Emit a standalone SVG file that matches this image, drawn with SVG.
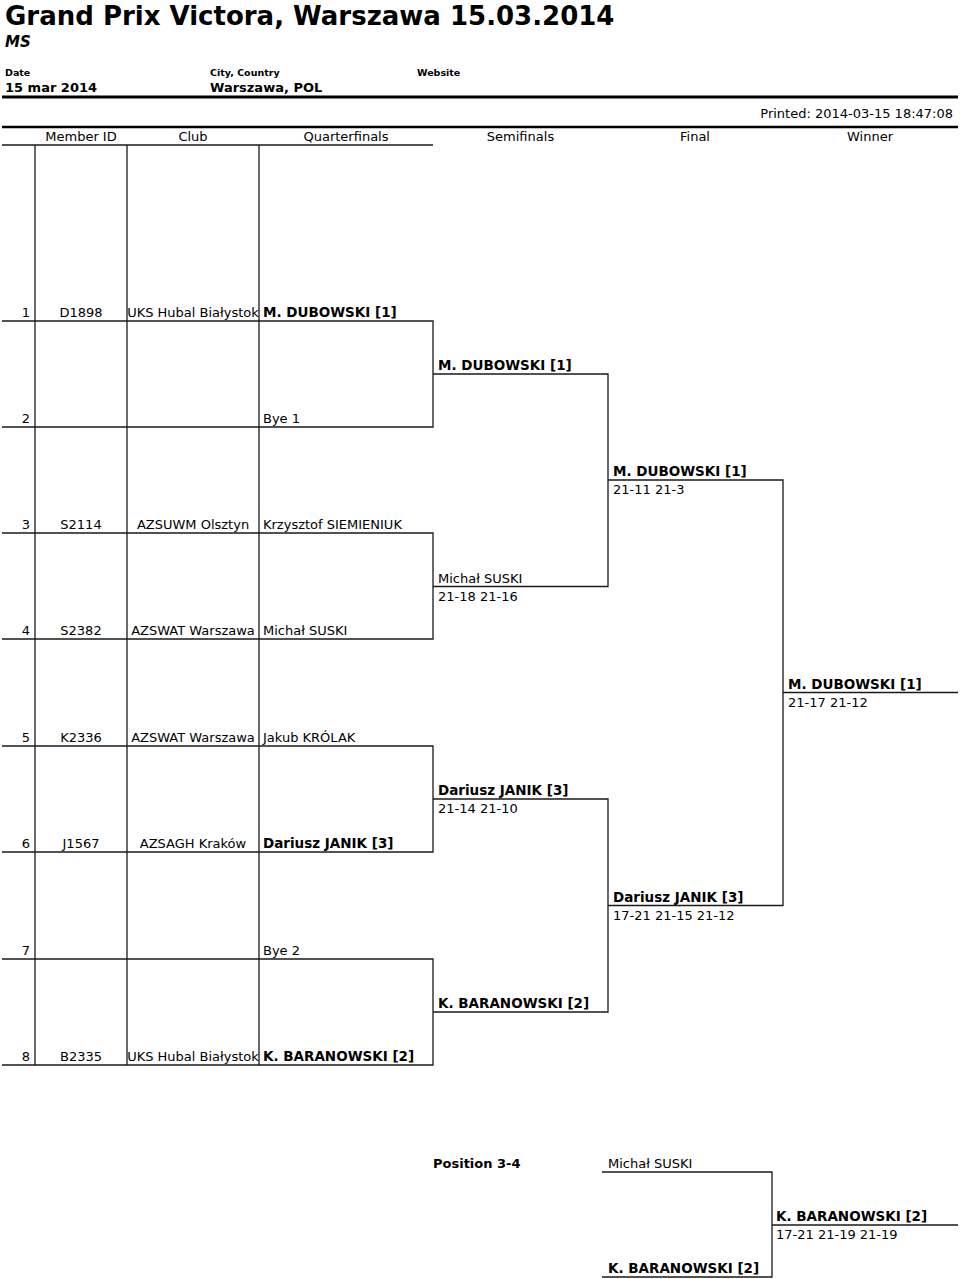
<svg xmlns="http://www.w3.org/2000/svg" width="960" height="1279" viewBox="0 0 960 1279">
<style>
text{font-family:"DejaVu Sans","Liberation Sans",sans-serif;fill:#000}
.t{font-size:26px;font-weight:bold}
.ev{font-size:15px;font-weight:bold;font-style:italic}
.lbl{font-size:9.5px;font-weight:bold}
.val{font-size:13px;font-weight:bold}
.h{font-size:13px}
.r{font-size:13px}
.b{font-size:13.5px;font-weight:bold}
.m{text-anchor:middle}
.e{text-anchor:end}
.ln{stroke:#1a1a1a;stroke-width:1.3;fill:none}
.thick{stroke:#000;stroke-width:3;fill:none}
.thick2{stroke:#000;stroke-width:2.5;fill:none}
</style>
<rect width="960" height="1279" fill="#fff"/>
<g id="header">
<text class="t" x="5" y="24.5">Grand Prix Victora, Warszawa 15.03.2014</text>
<text class="ev" x="5" y="47">MS</text>
<text class="lbl" x="5" y="76">Date</text>
<text class="val" x="5" y="91.5">15 mar 2014</text>
<text class="lbl" x="210" y="76">City, Country</text>
<text class="val" x="210" y="91.5">Warszawa, POL</text>
<text class="lbl" x="417" y="76">Website</text>
<line class="thick" x1="2" y1="97" x2="958" y2="97"/>
<text class="h e" x="953" y="118">Printed: 2014-03-15 18:47:08</text>
<line class="thick2" x1="2" y1="127" x2="958" y2="127"/>
<text class="h m" x="81" y="141">Member ID</text>
<text class="h m" x="193" y="141">Club</text>
<text class="h m" x="346" y="141">Quarterfinals</text>
<text class="h m" x="520.5" y="141">Semifinals</text>
<text class="h m" x="695" y="141">Final</text>
<text class="h m" x="870" y="141">Winner</text>
</g>
<g id="connectors">
<line class="ln" x1="2" y1="145" x2="433" y2="145"/>
<line class="ln" x1="35" y1="145" x2="35" y2="1065"/>
<line class="ln" x1="127" y1="145" x2="127" y2="1065"/>
<line class="ln" x1="259" y1="145" x2="259" y2="1065"/>
<path class="ln" d="M2 321H433V427H2"/>
<path class="ln" d="M2 533H433V639H2"/>
<path class="ln" d="M2 746H433V852H2"/>
<path class="ln" d="M2 959H433V1065H2"/>
<path class="ln" d="M433 374H608V586.5H433"/>
<path class="ln" d="M433 799H608V1012H433"/>
<path class="ln" d="M608 480H783V905.5H608"/>
<line class="ln" x1="783" y1="692.5" x2="958" y2="692.5"/>
<path class="ln" d="M602 1172H772V1277H602"/>
<line class="ln" x1="772" y1="1225" x2="958" y2="1225"/>
</g>
<g id="row1"><text class="r e" x="30" y="317">1</text><text class="r m" x="81" y="317">D1898</text><text class="r m" x="193" y="317">UKS Hubal Białystok</text><text class="b" x="263" y="317">M. DUBOWSKI [1]</text></g>
<g id="row2"><text class="r e" x="30" y="423">2</text><text class="r" x="263" y="423">Bye 1</text></g>
<g id="row3"><text class="r e" x="30" y="529">3</text><text class="r m" x="81" y="529">S2114</text><text class="r m" x="193" y="529">AZSUWM Olsztyn</text><text class="r" x="263" y="529">Krzysztof SIEMIENIUK</text></g>
<g id="row4"><text class="r e" x="30" y="635">4</text><text class="r m" x="81" y="635">S2382</text><text class="r m" x="193" y="635">AZSWAT Warszawa</text><text class="r" x="263" y="635">Michał SUSKI</text></g>
<g id="row5"><text class="r e" x="30" y="742">5</text><text class="r m" x="81" y="742">K2336</text><text class="r m" x="193" y="742">AZSWAT Warszawa</text><text class="r" x="263" y="742">Jakub KRÓLAK</text></g>
<g id="row6"><text class="r e" x="30" y="848">6</text><text class="r m" x="81" y="848">J1567</text><text class="r m" x="193" y="848">AZSAGH Kraków</text><text class="b" x="263" y="848">Dariusz JANIK [3]</text></g>
<g id="row7"><text class="r e" x="30" y="955">7</text><text class="r" x="263" y="955">Bye 2</text></g>
<g id="row8"><text class="r e" x="30" y="1061">8</text><text class="r m" x="81" y="1061">B2335</text><text class="r m" x="193" y="1061">UKS Hubal Białystok</text><text class="b" x="263" y="1061">K. BARANOWSKI [2]</text></g>
<g id="qf1"><text class="b" x="438" y="370">M. DUBOWSKI [1]</text></g>
<g id="qf2"><text class="r" x="438" y="582.5">Michał SUSKI</text><text class="r" x="438" y="600.5">21-18 21-16</text></g>
<g id="qf3"><text class="b" x="438" y="795">Dariusz JANIK [3]</text><text class="r" x="438" y="813">21-14 21-10</text></g>
<g id="qf4"><text class="b" x="438" y="1008">K. BARANOWSKI [2]</text></g>
<g id="sf1"><text class="b" x="613" y="476">M. DUBOWSKI [1]</text><text class="r" x="613" y="494">21-11 21-3</text></g>
<g id="sf2"><text class="b" x="613" y="901.5">Dariusz JANIK [3]</text><text class="r" x="613" y="919.5">17-21 21-15 21-12</text></g>
<g id="final"><text class="b" x="788" y="688.5">M. DUBOWSKI [1]</text><text class="r" x="788" y="706.5">21-17 21-12</text></g>
<g id="pos34">
<text class="val" x="433" y="1168">Position 3-4</text>
<text class="r" x="608" y="1168">Michał SUSKI</text>
<text class="b" x="608" y="1273">K. BARANOWSKI [2]</text>
<text class="b" x="776" y="1221">K. BARANOWSKI [2]</text>
<text class="r" x="776" y="1239">17-21 21-19 21-19</text>
</g>
</svg>
